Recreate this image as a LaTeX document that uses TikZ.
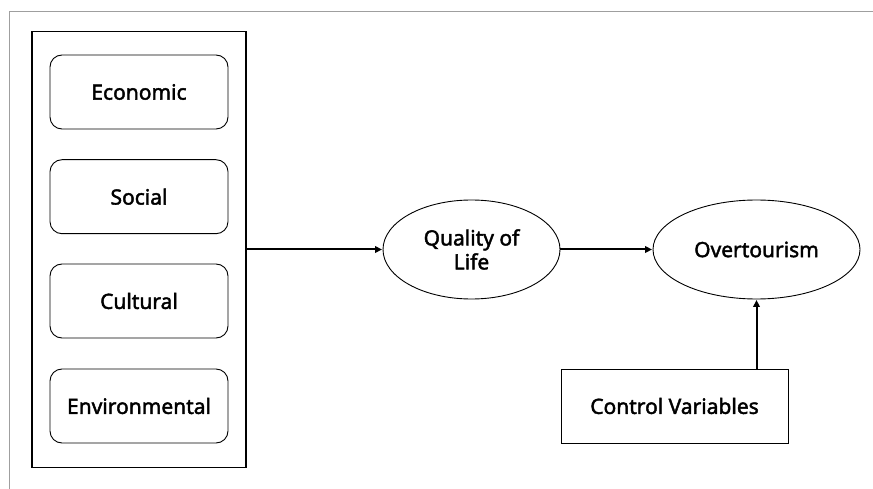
\documentclass[tikz,border=0pt]{standalone}
\usepackage{fontspec}
\setmainfont{Noto Sans}[FakeBold=2]
\usetikzlibrary{arrows.meta,shapes.geometric}
\begin{document}
\begin{tikzpicture}[x=1pt,y=-1pt,
  factor/.style={draw, rounded corners=12pt, line width=0.9pt, minimum width=178pt, minimum height=74pt, inner sep=0pt, font=\fontsize{21pt}{25pt}\selectfont},
  construct/.style={draw, ellipse, line width=0.9pt, inner sep=0pt, align=center, font=\fontsize{21pt}{24pt}\selectfont},
  plainbox/.style={draw, line width=1pt, inner sep=0pt, font=\fontsize{21pt}{25pt}\selectfont},
  arr/.style={line width=2pt, -{Triangle[length=7pt,width=6.5pt]}, shorten >=0.5pt}]
\useasboundingbox (0,0) rectangle (873,489);
\draw[gray!75, line width=1pt] (9.5,489) -- (9.5,12) -- (873,12);
\node[draw, line width=1.2pt, minimum width=214pt, minimum height=436pt, inner sep=0pt] (outer) at (139,249.5) {};
\node[factor] (eco) at (139,92) {Economic};
\node[factor] (soc) at (139,196.7) {Social};
\node[factor] (cul) at (139,301) {Cultural};
\node[factor] (env) at (139,406) {Environmental};
\node[construct, minimum width=177pt, minimum height=99pt] (qol) at (471.5,249.5) {Quality of\\Life};
\node[construct, minimum width=207pt, minimum height=99pt] (over) at (756.5,249.5) {Overtourism};
\node[plainbox, minimum width=227pt, minimum height=74pt] (ctrl) at (674.5,406) {Control Variables};
\draw[arr] (outer) -- (qol);
\draw[arr] (qol) -- (over);
\draw[arr] (ctrl.north -| over.south) -- (over.south);
\end{tikzpicture}
\end{document}
